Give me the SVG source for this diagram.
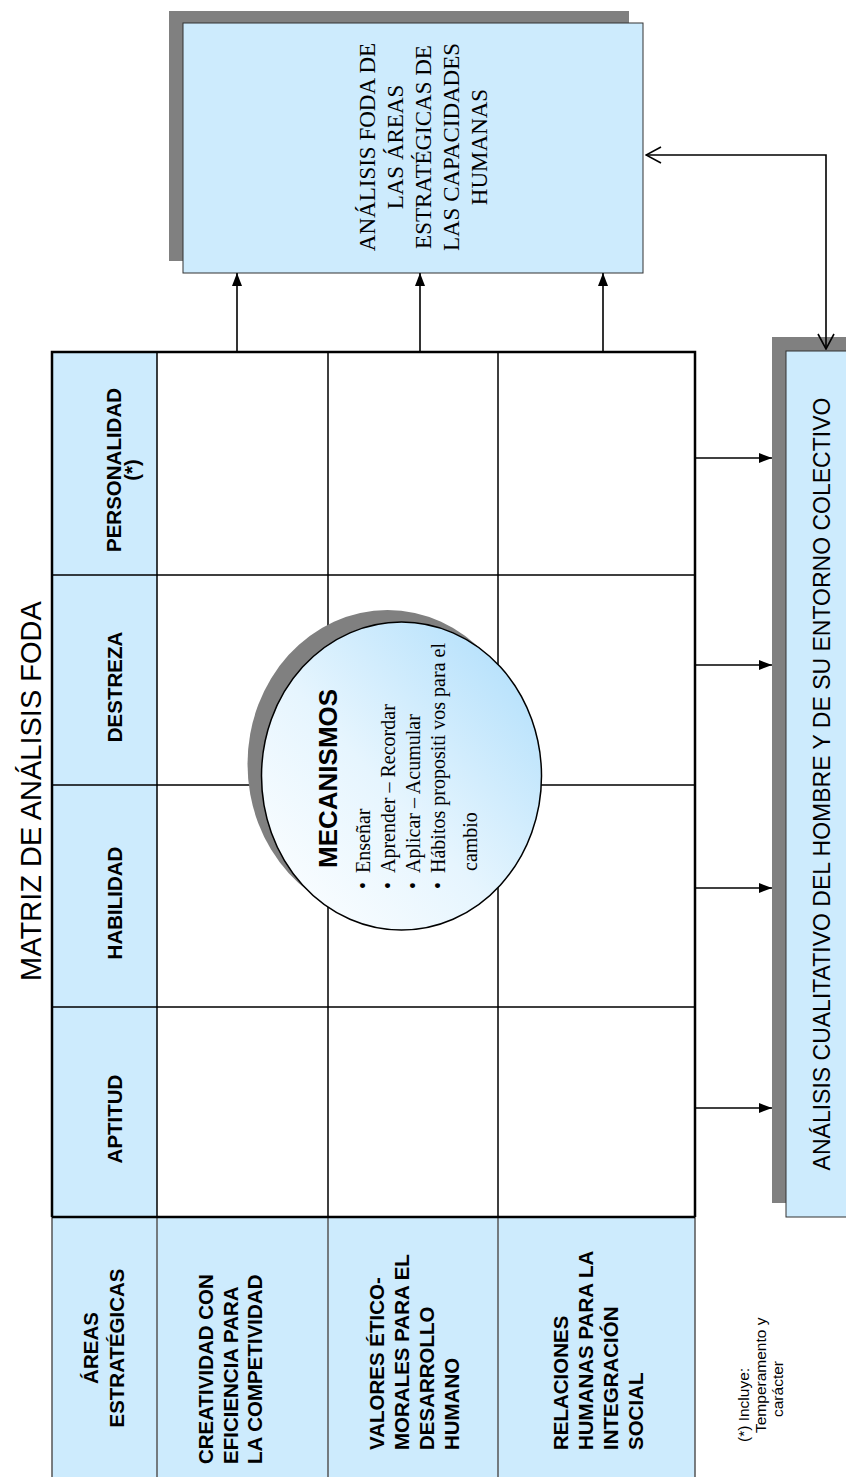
<svg xmlns="http://www.w3.org/2000/svg" width="846" height="1477" viewBox="0 0 846 1477">
<style>
.sans{font-family:"Liberation Sans",Arial,sans-serif;fill:#000}
.serif{font-family:"Liberation Serif","Times New Roman",serif;fill:#000}
.hb{font-family:"Liberation Sans",Arial,sans-serif;font-weight:bold;font-size:20.5px;fill:#000}
.blue{fill:#cdebfd}
.shadow{fill:#808080}
.box{fill:#cdebfd;stroke:#333;stroke-width:1}
.thick{stroke:#000;stroke-width:2.5;fill:none}
.thin{stroke:#000;stroke-width:1.5;fill:none}
.grey{stroke:#555;stroke-width:1.5;fill:none}
.conn{stroke:#000;stroke-width:1.6;fill:none}
</style>
<defs>
<marker id="fa" viewBox="0 0 13 10" refX="13" refY="5" markerWidth="13" markerHeight="10" markerUnits="userSpaceOnUse" orient="auto"><path d="M0,0 L13,5 L0,10 z" fill="#000"/></marker>
<marker id="oa" viewBox="0 0 17 18" refX="16" refY="9" markerWidth="17" markerHeight="18" markerUnits="userSpaceOnUse" orient="auto-start-reverse"><path d="M1,1 L16,9 L1,17" fill="none" stroke="#000" stroke-width="1.6"/></marker>
<linearGradient id="cg" x1="0" y1="1" x2="1" y2="0">
<stop offset="0" stop-color="#ffffff"/>
<stop offset="0.45" stop-color="#e6f5fe"/>
<stop offset="1" stop-color="#aadcfb"/>
</linearGradient>
</defs>
<rect width="846" height="1477" fill="#fff"/>

<text class="sans" font-size="29" text-anchor="middle" transform="translate(41,791) rotate(-90)">MATRIZ DE ANÁLISIS FODA</text>

<g id="matrix">
<rect class="blue" x="52" y="352" width="105" height="865"/>
<rect class="blue" x="52" y="1217" width="643" height="262"/>
<path class="thin" d="M157,352 V1217 M328,352 V1217 M498,352 V1217 M52,575 H695 M52,785 H695 M52,1007 H695"/>
<path class="grey" d="M52,1217 V1479 M157,1217 V1479 M328,1217 V1479 M498,1217 V1479 M695,1217 V1479"/>
<path class="thick" d="M52,1217 V352 H695 V1217 M52,1217 H695"/>
</g>

<g id="header-personalidad">
<text class="hb" text-anchor="middle" transform="translate(121,470) rotate(-90)"><tspan x="0" y="0">PERSONALIDAD</tspan><tspan x="0" dy="18">(*)</tspan></text>
</g>
<g id="header-destreza"><text class="hb" text-anchor="middle" transform="translate(122,687) rotate(-90)">DESTREZA</text></g>
<g id="header-habilidad"><text class="hb" text-anchor="middle" transform="translate(122,903) rotate(-90)">HABILIDAD</text></g>
<g id="header-aptitud"><text class="hb" text-anchor="middle" transform="translate(122,1119) rotate(-90)">APTITUD</text></g>
<g id="header-areas"><text class="hb" text-anchor="middle" transform="translate(98,1348) rotate(-90)"><tspan x="0" y="0">ÁREAS</tspan><tspan x="0" dy="26">ESTRATÉGICAS</tspan></text></g>
<g id="area-creatividad"><text class="hb" transform="translate(213,1464) rotate(-90)"><tspan x="0" y="0">CREATIVIDAD CON</tspan><tspan x="0" dy="24.5">EFICIENCIA PARA</tspan><tspan x="0" dy="24.5">LA COMPETIVIDAD</tspan></text></g>
<g id="area-valores"><text class="hb" transform="translate(384,1450) rotate(-90)"><tspan x="0" y="0">VALORES ÉTICO-</tspan><tspan x="0" dy="25">MORALES PARA EL</tspan><tspan x="0" dy="25">DESARROLLO</tspan><tspan x="0" dy="25">HUMANO</tspan></text></g>
<g id="area-relaciones"><text class="hb" transform="translate(568,1450) rotate(-90)"><tspan x="0" y="0">RELACIONES</tspan><tspan x="0" dy="25">HUMANAS PARA LA</tspan><tspan x="0" dy="25">INTEGRACIÓN</tspan><tspan x="0" dy="25">SOCIAL</tspan></text></g>

<g id="mecanismos">
<ellipse class="shadow" cx="387.5" cy="764" rx="140" ry="154"/>
<ellipse cx="401.5" cy="776" rx="140" ry="154" fill="url(#cg)" stroke="#000" stroke-width="1.5"/>
<text class="sans" font-weight="bold" font-size="26" transform="translate(337,868) rotate(-90)">MECANISMOS</text>
<text class="serif" font-size="20" transform="rotate(-90)">
<tspan x="-889" y="370">•</tspan><tspan x="-873" y="370">Enseñar</tspan>
<tspan x="-889" y="395">•</tspan><tspan x="-873" y="395">Aprender – Recordar</tspan>
<tspan x="-889" y="420">•</tspan><tspan x="-873" y="420">Aplicar – Acumular</tspan>
<tspan x="-889" y="445">•</tspan><tspan x="-873" y="445">Hábitos propositi vos para el</tspan>
<tspan x="-871" y="477">cambio</tspan>
</text>
</g>

<g id="foda-box">
<rect class="shadow" x="169" y="11" width="460" height="250"/>
<rect class="box" x="183" y="23" width="460" height="250"/>
<text class="serif" font-size="23" text-anchor="middle" transform="translate(375,147) rotate(-90)"><tspan x="0" y="0">ANÁLISIS FODA DE</tspan><tspan x="0" dy="27.5">LAS ÁREAS</tspan><tspan x="0" dy="28">ESTRATÉGICAS DE</tspan><tspan x="0" dy="28">LAS CAPACIDADES</tspan><tspan x="0" dy="28.5">HUMANAS</tspan></text>
</g>

<g id="cualitativo-box">
<rect class="shadow" x="772" y="337" width="80" height="866"/>
<rect class="box" x="786" y="351" width="70" height="866"/>
<text class="sans" font-size="23" text-anchor="middle" transform="translate(830,784) rotate(-90)">ANÁLISIS CUALITATIVO DEL HOMBRE Y DE SU ENTORNO COLECTIVO</text>
</g>

<g id="nota">
<text class="sans" font-size="15.5" transform="rotate(-90)">
<tspan x="-1442" y="749">(*) Incluye:</tspan>
<tspan x="-1433" y="766">Temperamento y</tspan>
<tspan x="-1417" y="783">carácter</tspan>
</text>
</g>

<g id="connectors">
<line class="conn" x1="237" y1="352" x2="237" y2="273" marker-end="url(#fa)"/>
<line class="conn" x1="420" y1="352" x2="420" y2="273" marker-end="url(#fa)"/>
<line class="conn" x1="603" y1="352" x2="603" y2="273" marker-end="url(#fa)"/>
<line class="conn" x1="695" y1="458" x2="772" y2="458" marker-end="url(#fa)"/>
<line class="conn" x1="695" y1="665" x2="772" y2="665" marker-end="url(#fa)"/>
<line class="conn" x1="695" y1="888" x2="772" y2="888" marker-end="url(#fa)"/>
<line class="conn" x1="695" y1="1108" x2="772" y2="1108" marker-end="url(#fa)"/>
<path class="conn" d="M646,155 H826 V349" marker-start="url(#oa)" marker-end="url(#oa)"/>
</g>
</svg>
